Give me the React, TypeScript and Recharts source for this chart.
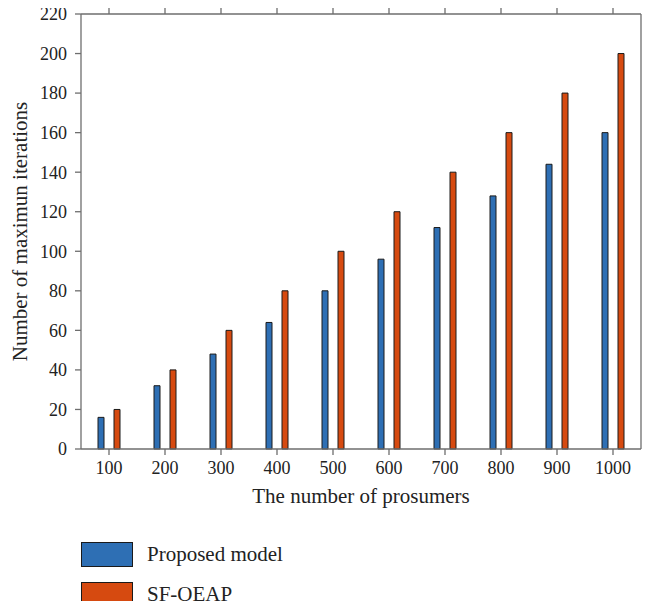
import { BarChart, Bar, XAxis, YAxis, Label } from 'recharts';

const prosumers = ['100', '200', '300', '400', '500', '600', '700', '800', '900', '1000'];
const proposedModel = [16, 32, 48, 64, 80, 96, 112, 128, 144, 160];
const sfOeap = [20, 40, 60, 80, 100, 120, 140, 160, 180, 200];
const yTicks = [0, 20, 40, 60, 80, 100, 120, 140, 160, 180, 200, 220];

const data = prosumers.map((n, i) => ({ n, proposed: proposedModel[i], sf: sfOeap[i] }));

const FONT = '"Liberation Serif", serif';
const AXIS = '#6e6e6e';
const BLUE = '#2e6fb4';
const ORANGE = '#d64a10';

const blank = () => <g />;

export default function App() {
  return (
    <div style={{ position: 'relative', width: 655, height: 609, margin: -8, fontFamily: FONT, background: '#fff' }}>
      <BarChart
        width={655}
        height={609}
        data={data}
        margin={{ top: 0, right: 0, left: 21, bottom: 105 }}
        barSize={6}
        barGap={10}
      >
        <XAxis
          dataKey="n"
          stroke={AXIS}
          strokeWidth={1.3}
          tickSize={6}
          tickMargin={6}
          height={55}
          tick={{ fill: '#222', fontSize: 18, fontFamily: FONT }}
          tickLine={{ stroke: AXIS }}
        >
          <Label value="The number of prosumers" position="insideBottom" offset={1} fill="#222" fontSize={21} fontFamily={FONT} />
        </XAxis>
        <XAxis
          xAxisId="top"
          dataKey="n"
          orientation="top"
          stroke={AXIS}
          strokeWidth={1.3}
          tickSize={6}
          height={14}
          tick={blank}
        />
        <YAxis
          domain={[0, 220]}
          ticks={yTicks}
          interval={0}
          stroke={AXIS}
          strokeWidth={1.3}
          tickSize={6}
          tickMargin={8}
          width={60}
          tick={{ fill: '#222', fontSize: 18, fontFamily: FONT }}
        >
          <Label value="Number of maximun iterations" angle={-90} position="insideLeft" offset={-1} fill="#222" fontSize={21} fontFamily={FONT} style={{ textAnchor: 'middle' }} />
        </YAxis>
        <YAxis
          yAxisId="right"
          orientation="right"
          domain={[0, 220]}
          ticks={yTicks}
          interval={0}
          stroke={AXIS}
          strokeWidth={1.3}
          tickSize={6}
          width={14}
          tick={blank}
        />
        <Bar dataKey="proposed" name="Proposed model" fill={BLUE} stroke="#1a1a1a" strokeWidth={1} isAnimationActive={false} />
        <Bar dataKey="sf" name="SF-OEAP" fill={ORANGE} stroke="#1a1a1a" strokeWidth={1} isAnimationActive={false} />
      </BarChart>
      <div style={{ position: 'absolute', left: 81, top: 542, fontSize: 21, color: '#222', lineHeight: '25px' }}>
        <div style={{ display: 'flex', alignItems: 'center', marginBottom: 15 }}>
          <span style={{ width: 50, height: 23, background: BLUE, border: '1px solid #1a1a1a', marginRight: 14 }} />
          Proposed model
        </div>
        <div style={{ display: 'flex', alignItems: 'center' }}>
          <span style={{ width: 50, height: 23, background: ORANGE, border: '1px solid #1a1a1a', marginRight: 14 }} />
          SF-OEAP
        </div>
      </div>
    </div>
  );
}
